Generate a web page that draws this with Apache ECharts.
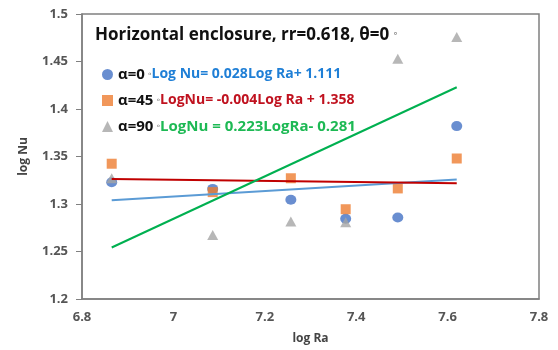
<!DOCTYPE html>
<html>
<head>
<meta charset="utf-8">
<script src="https://cdn.jsdelivr.net/npm/echarts@6/dist/echarts.min.js"></script>
<style>html,body{margin:0;padding:0;background:#fff}#c{width:558px;height:350px}</style>
</head>
<body>
<div id="c"></div>
<script>
const logRa = [6.865, 7.086, 7.257, 7.377, 7.491, 7.620];
const nuAlpha0 = [1.3229, 1.3159, 1.3045, 1.2844, 1.2857, 1.3820];
const nuAlpha45 = [1.3424, 1.3125, 1.3271, 1.2945, 1.3164, 1.3479];
const nuAlpha90 = [1.3271, 1.2674, 1.2816, 1.2809, 1.4528, 1.4757];
const trendX = [6.865, 7.620];
const trend0 = [1.3039, 1.3257];
const trend45 = [1.3264, 1.3219];
const trend90 = [1.2542, 1.4229];
const seriesNames = ['α=0', 'α=45', 'α=90'];
const equations = ['Log Nu= 0.028Log Ra+ 1.111', 'LogNu= -0.004Log Ra + 1.358', 'LogNu = 0.223LogRa- 0.281'];
const titleText = 'Horizontal enclosure, rr=0.618, θ=0';

const pts = (xs, ys) => xs.map((x, i) => [x, ys[i]]);
const FONT = '"Open Sans", "Liberation Sans", sans-serif';
const eqColors = ['#1F7FD6', '#C0121F', '#1DB954'];

const chart = echarts.init(document.getElementById('c'), null, {renderer: 'canvas'});
chart.setOption({
  animation: false,
  title: {
    text: titleText + ' {d|◦}',
    left: 90, top: 22,
    textStyle: {
      fontFamily: FONT, fontWeight: 'bold', fontSize: 17, color: '#111',
      rich: {d: {fontSize: 12, color: '#444', fontWeight: 'normal', padding: [0, 0, 3, 0]}}
    }
  },
  legend: {
    orient: 'vertical', left: 97, top: 62, itemGap: 11,
    itemWidth: 11, itemHeight: 11,
    data: [
      {name: seriesNames[0], icon: 'circle'},
      {name: seriesNames[1], icon: 'rect'},
      {name: seriesNames[2], icon: 'triangle'}
    ],
    formatter: function (name) {
      const i = seriesNames.indexOf(name);
      return '{a|' + name + '} {d|◦}{e' + i + '|' + equations[i] + '}';
    },
    textStyle: {
      fontFamily: FONT,
      rich: {
        a: {fontWeight: 'bold', fontSize: 15, color: '#111'},
        d: {fontSize: 10, color: '#444'},
        e0: {fontWeight: 'bold', fontSize: 14, color: eqColors[0]},
        e1: {fontWeight: 'bold', fontSize: 14, color: eqColors[1]},
        e2: {fontWeight: 'bold', fontSize: 15, color: eqColors[2]}
      }
    }
  },
  grid: {left: 82, right: 19, top: 14, bottom: 48, show: true, borderColor: '#808080', borderWidth: 1.5, containLabel: false},
  xAxis: {
    type: 'value', min: 6.8, max: 7.8, interval: 0.2,
    name: 'log Ra', nameLocation: 'middle', nameGap: 34,
    nameTextStyle: {fontFamily: FONT, fontWeight: 'bold', fontSize: 12, color: '#444'},
    axisLine: {show: true, lineStyle: {color: '#808080', width: 1.5}},
    axisTick: {show: false},
    splitLine: {show: false},
    axisLabel: {fontFamily: FONT, fontWeight: 'bold', fontSize: 13, color: '#555', margin: 12}
  },
  yAxis: {
    type: 'value', min: 1.2, max: 1.5, interval: 0.05,
    name: 'log Nu', nameLocation: 'middle', nameGap: 52, nameRotate: 90,
    nameTextStyle: {fontFamily: FONT, fontWeight: 'bold', fontSize: 12, color: '#444'},
    axisLine: {show: true, lineStyle: {color: '#808080', width: 1.5}},
    axisTick: {show: true, length: 6, lineStyle: {color: '#808080', width: 1}},
    splitLine: {show: false},
    axisLabel: {fontFamily: FONT, fontWeight: 'bold', fontSize: 13, color: '#555', margin: 14}
  },
  series: [
    {name: seriesNames[0], type: 'scatter', symbol: 'circle', symbolSize: [11, 10], itemStyle: {color: '#4472C4'}, data: pts(logRa, nuAlpha0), z: 3},
    {name: seriesNames[1], type: 'scatter', symbol: 'rect', symbolSize: 10, itemStyle: {color: '#ED7D31'}, data: pts(logRa, nuAlpha45), z: 3},
    {name: seriesNames[2], type: 'scatter', symbol: 'triangle', symbolSize: [11, 10], itemStyle: {color: '#A5A5A5'}, data: pts(logRa, nuAlpha90), z: 3},
    {name: 'trend0', type: 'line', showSymbol: false, symbol: 'none', lineStyle: {color: '#5B9BD5', width: 2}, data: pts(trendX, trend0), z: 4},
    {name: 'trend45', type: 'line', showSymbol: false, symbol: 'none', lineStyle: {color: '#C00000', width: 2}, data: pts(trendX, trend45), z: 4},
    {name: 'trend90', type: 'line', showSymbol: false, symbol: 'none', lineStyle: {color: '#00B050', width: 2}, data: pts(trendX, trend90), z: 4}
  ]
});
</script>
</body>
</html>
